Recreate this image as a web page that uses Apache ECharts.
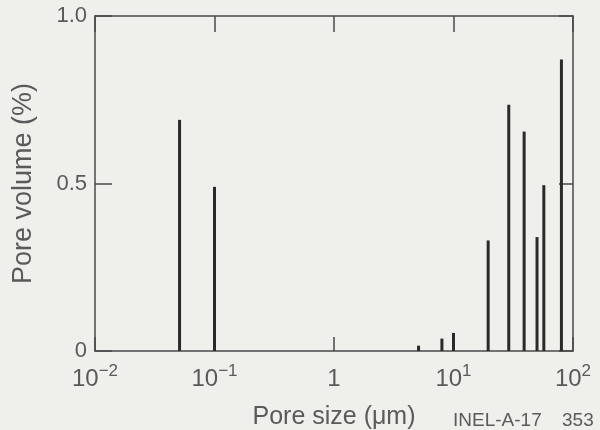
<!DOCTYPE html>
<html>
<head>
<meta charset="utf-8">
<script src="https://cdn.jsdelivr.net/npm/echarts@6/dist/echarts.min.js"></script>
<style>
  html, body { margin: 0; padding: 0; background: #efefec; }
  #chart { width: 600px; height: 430px; }
</style>
</head>
<body>
<div id="chart"></div>
<script>
// pore size (um) and pore volume (%)
const poreSize = [0.051, 0.1, 5.1, 8, 10, 19.5, 29, 39, 50, 57, 80];
const poreVolume = [0.69, 0.49, 0.016, 0.037, 0.054, 0.33, 0.735, 0.655, 0.34, 0.495, 0.87];
const yTicks = [0, 0.5, 1.0];
const decades = [-2, -1, 0, 1, 2]; // exponents for the top frame ticks

const textColor = '#5a5a5a';
const frameColor = '#4a4a4a';
const font = 'Liberation Sans';

const chart = echarts.init(document.getElementById('chart'));

function xLabel(v) {
  const e = Math.round(Math.log10(v));
  if (e === 0) return '{b|1}';
  return '{b|10}{s|' + (e < 0 ? '\u2212' + (-e) : e) + '}';
}

const frameLine = { show: true, onZero: false, lineStyle: { color: frameColor, width: 1.5 } };

const option = {
  backgroundColor: '#efefec',
  animation: false,
  grid: { left: 95, right: 27, top: 16, bottom: 79, outerBoundsMode: 'none' },
  xAxis: [
    {
      type: 'log', logBase: 10, min: 0.01, max: 100, splitNumber: 4,
      name: 'Pore size (\u03bcm)',
      nameLocation: 'middle', nameGap: 54,
      nameTextStyle: { color: textColor, fontSize: 25, fontFamily: font },
      axisLine: frameLine,
      axisTick: { show: true, inside: true, length: 14, lineStyle: { color: frameColor, width: 1.5 } },
      minorTick: { show: false },
      splitLine: { show: false },
      axisLabel: {
        margin: 12,
        color: textColor, fontFamily: font,
        formatter: xLabel,
        rich: {
          b: { fontSize: 24, lineHeight: 28, verticalAlign: 'bottom', color: textColor, fontFamily: font },
          s: { fontSize: 17, lineHeight: 28, verticalAlign: 'top', color: textColor, fontFamily: font }
        }
      }
    },
    {
      // top frame, in decade (exponent) units
      type: 'value', min: decades[0], max: decades[decades.length - 1], interval: 1,
      position: 'top',
      axisLine: frameLine,
      axisTick: { show: true, inside: true, length: 16, lineStyle: { color: frameColor, width: 1.5 } },
      axisLabel: { show: false },
      splitLine: { show: false }
    }
  ],
  yAxis: [
    {
      type: 'value', min: yTicks[0], max: yTicks[yTicks.length - 1], interval: 0.5,
      name: 'Pore volume (%)',
      nameLocation: 'middle', nameGap: 58, nameRotate: 90,
      nameTextStyle: { color: textColor, fontSize: 27, fontFamily: font },
      axisLine: frameLine,
      axisTick: { show: true, inside: true, length: 17, lineStyle: { color: frameColor, width: 1.5 } },
      splitLine: { show: false },
      axisLabel: {
        margin: 8, color: textColor, fontSize: 22, fontFamily: font,
        formatter: v => (v === 0 ? '0' : v.toFixed(1))
      }
    },
    {
      type: 'value', min: yTicks[0], max: yTicks[yTicks.length - 1], interval: 0.5,
      position: 'right',
      axisLine: frameLine,
      axisTick: { show: true, inside: true, length: 14, lineStyle: { color: frameColor, width: 1.5 } },
      splitLine: { show: false },
      axisLabel: { show: false }
    }
  ],
  graphic: [
    { type: 'text', left: 453, top: 411, style: { text: 'INEL-A-17', fill: textColor, fontSize: 19, fontFamily: font } },
    { type: 'text', left: 562, top: 411, style: { text: '353', fill: textColor, fontSize: 19, fontFamily: font } }
  ],
  series: [
    {
      type: 'custom',
      xAxisIndex: 0, yAxisIndex: 0,
      encode: { x: 0, y: 1 },
      data: poreSize.map((s, i) => [s, poreVolume[i]]),
      renderItem: function (params, api) {
        const p0 = api.coord([api.value(0), 0]);
        const p1 = api.coord([api.value(0), api.value(1)]);
        return {
          type: 'line',
          shape: { x1: p0[0], y1: p0[1], x2: p1[0], y2: p1[1] },
          style: { stroke: '#2a2a2a', lineWidth: 3 }
        };
      }
    }
  ]
};

chart.setOption(option);
</script>
</body>
</html>
